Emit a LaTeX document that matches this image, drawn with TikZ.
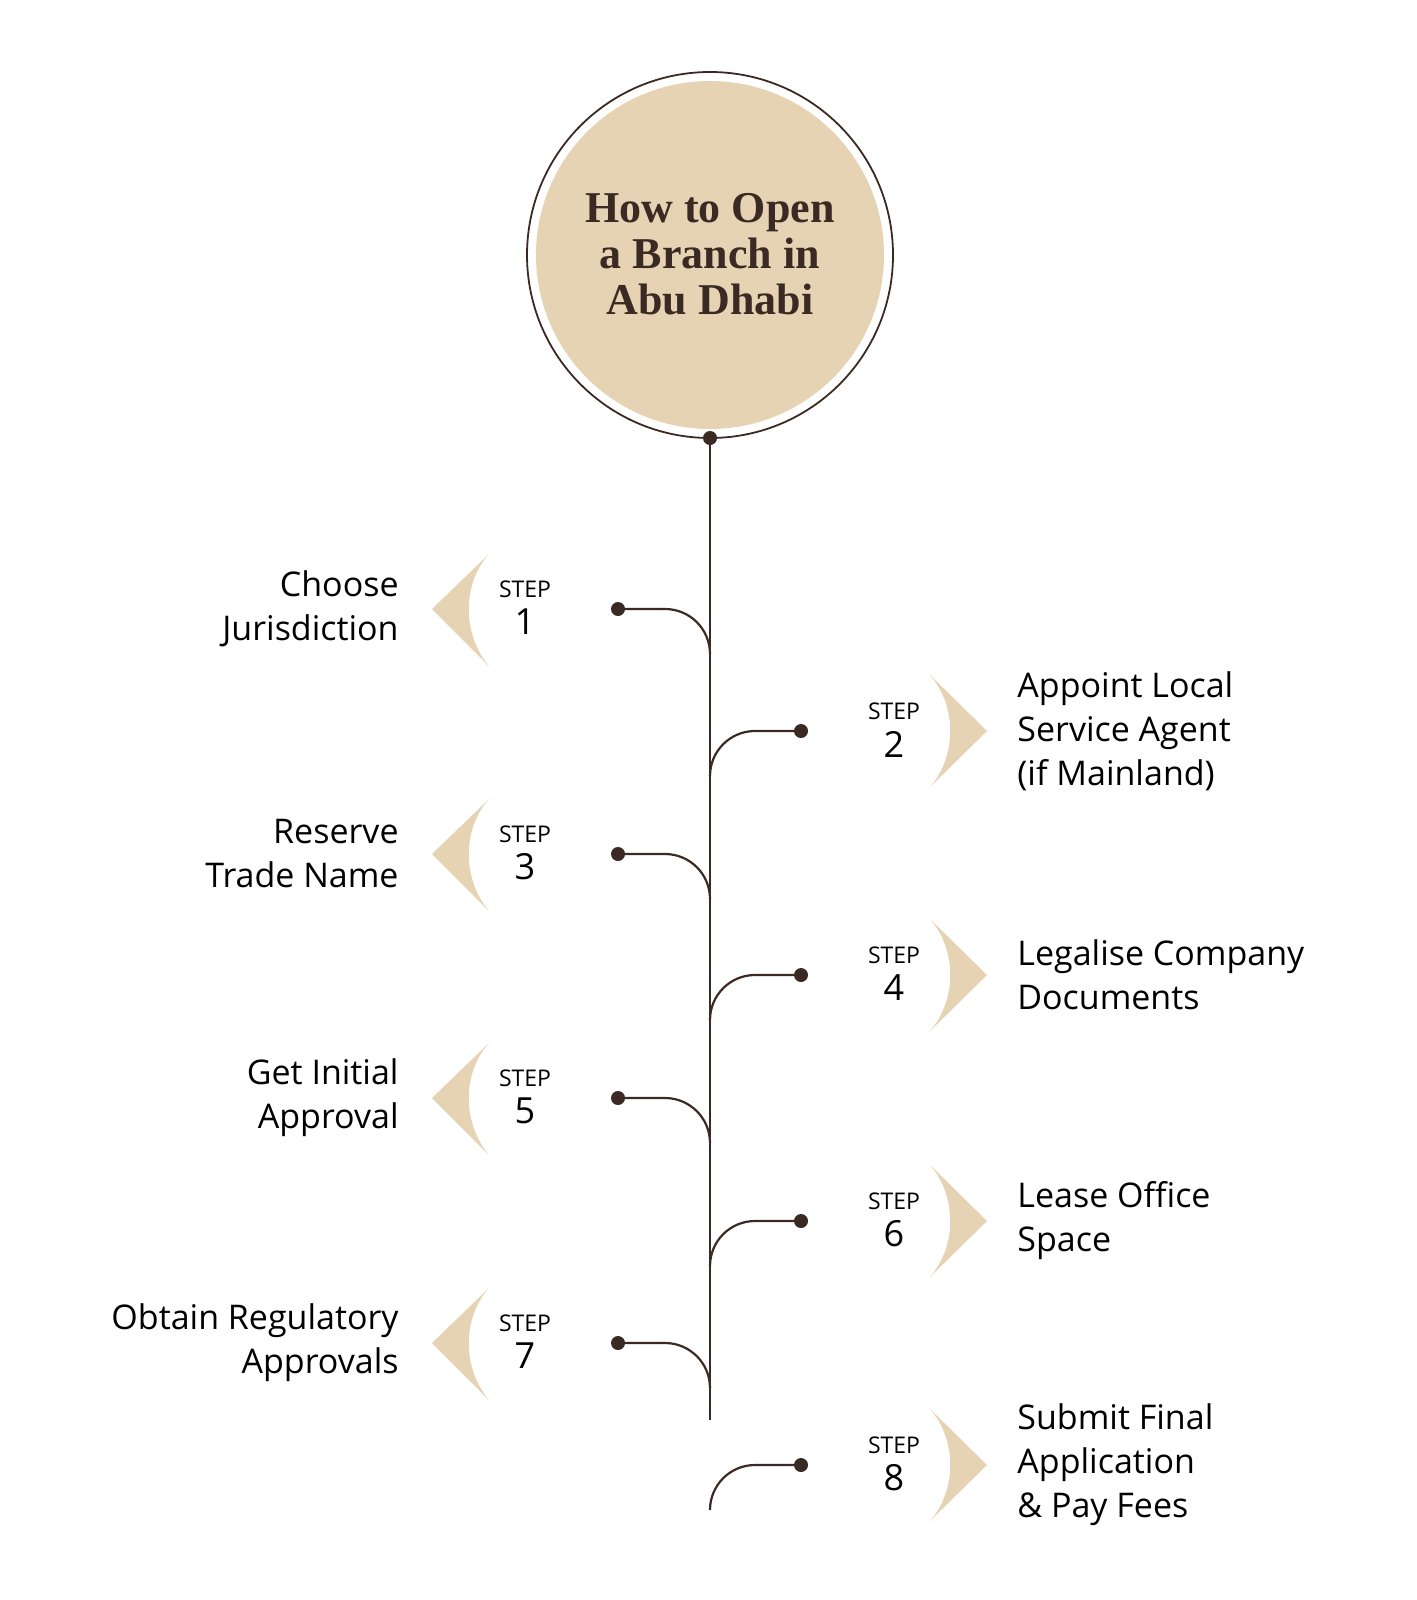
\documentclass[tikz,border=0pt]{standalone}
\usepackage{fontspec}
\setmainfont{Open Sans}
\newfontfamily\titlefont{Liberation Serif}
\definecolor{beige}{HTML}{E6D3B3}
\definecolor{dark}{HTML}{3B2A24}
\begin{document}
\begin{tikzpicture}[x=0.5pt,y=-0.5pt,
  ln/.style={dark,line width=1.1pt},
  dot/.style={circle,fill=dark,inner sep=0pt,minimum size=7pt},
  lbl/.style={font=\fontsize{17}{22}\selectfont,text=black,inner sep=0pt},
  stp/.style={font=\fontsize{11.5}{12}\selectfont,inner sep=0pt},
  num/.style={font=\fontsize{18}{18}\selectfont,inner sep=0pt}]
\useasboundingbox (0,0) rectangle (1417,1600);
\fill[beige] (710,255) circle (174);
\draw[dark,line width=0.9pt] (710,255) circle (183);
\node[align=center,font=\titlefont\bfseries\fontsize{22}{23}\selectfont,text=dark] (title) at (710,254) {How to Open\\a Branch in\\Abu Dhabi};
\node[dot] (top) at (710,438) {};
\draw[ln] (top.center) -- (710,1420);
% left steps
\foreach \y/\n/\t [count=\i] in {609/1/{Choose\\Jurisdiction},854/3/{Reserve\\Trade Name},1098/5/{Get Initial\\Approval},1343/7/{Obtain Regulatory\\Approvals}}{
  \fill[beige] (432,\y) -- (489,\y-55) .. controls (462,\y-25) and (462,\y+25) .. (489,\y+57) -- cycle;
  \node[stp] (s\n) at (525,\y-20) {STEP};
  \node[num] (n\n) at (525,\y+13) {\n};
  \node[dot] (d\n) at (618,\y) {};
  \draw[ln] (d\n.center) -- (665,\y) arc[start angle=90,end angle=0,x radius=45,y radius=-45];
  \node[lbl,align=right,anchor=east] (l\n) at (399,\y) {\t};
}
% right steps
\foreach \y/\n/\t in {731/2/{Appoint Local\\Service Agent\\(if Mainland)},975/4/{Legalise Company\\Documents},1221/6/{Lease Office\\Space},1465/8/{Submit Final\\Application\\\& Pay Fees}}{
  \fill[beige] (987,\y) -- (930,\y-56) .. controls (957,\y-25) and (957,\y+25) .. (930,\y+56) -- cycle;
  \node[stp] (s\n) at (894,\y-20) {STEP};
  \node[num] (n\n) at (894,\y+13) {\n};
  \node[dot] (d\n) at (801,\y) {};
  \draw[ln] (d\n.center) -- (755,\y) arc[start angle=90,end angle=180,x radius=45,y radius=-45];
  \node[lbl,align=left,anchor=west] (l\n) at (1017,\y) {\t};
}
\end{tikzpicture}
\end{document}
